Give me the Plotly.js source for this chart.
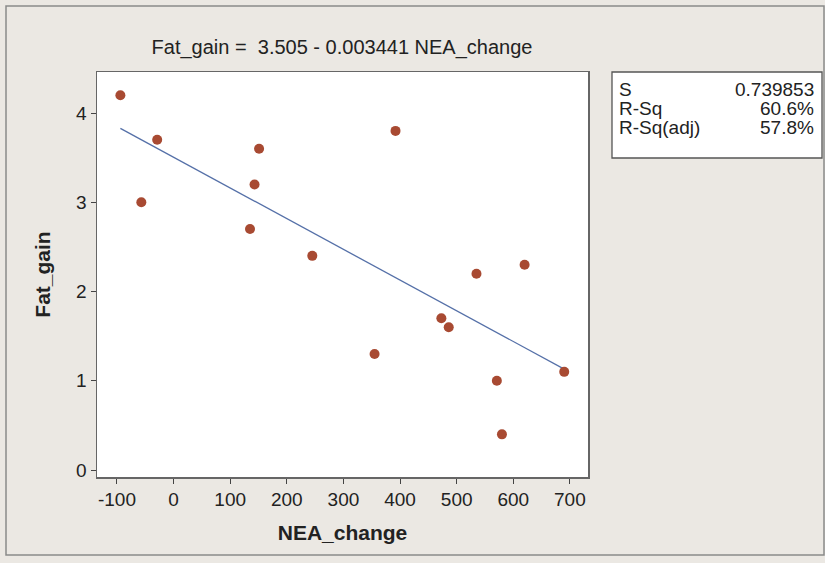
<!DOCTYPE html>
<html>
<head>
<meta charset="utf-8">
<script src="https://cdn.plot.ly/plotly-3.0.1.min.js"></script>
<style>html,body{margin:0;padding:0;background:#ffffff;}#chart{width:825px;height:563px;}</style>
</head>
<body>
<div id="chart"></div>
<script>
// Data
const neaChange = [-94, -57, -29, 135, 143, 151, 245, 355, 392, 473, 486, 535, 571, 580, 620, 690];
const fatGain   = [4.2, 3.0, 3.7, 2.7, 3.2, 3.6, 2.4, 1.3, 3.8, 1.7, 1.6, 2.2, 1.0, 0.4, 2.3, 1.1];
const intercept = 3.505;
const slope = -0.003441;
const xTicks = [-100, 0, 100, 200, 300, 400, 500, 600, 700];
const yTicks = [0, 1, 2, 3, 4];
const statLabels = ["S", "R-Sq", "R-Sq(adj)"];
const statValues = ["0.739853", "60.6%", "57.8%"];

const xMin = Math.min(...neaChange), xMax = Math.max(...neaChange);
const fitX = [xMin, xMax];
const fitY = fitX.map(x => intercept + slope * x);

const W = 825, H = 563;
const m = {l: 97, r: 237, t: 72, b: 86};
const pw = W - m.l - m.r, ph = H - m.t - m.b;
const px = x => (x - m.l) / pw;          // pixel -> paper x
const py = y => (H - m.b - y) / ph;      // pixel -> paper y

const font = "Liberation Sans, Arial, sans-serif";

const traces = [
  {x: fitX, y: fitY, mode: "lines", type: "scatter",
   line: {color: "#5570a8", width: 1.3}, hoverinfo: "skip"},
  {x: neaChange, y: fatGain, mode: "markers", type: "scatter",
   marker: {color: "#a84a32", size: 10, line: {width: 0}}}
];

const rowY = [89, 108, 127];
const statAnn = [];
statLabels.forEach((t, i) => statAnn.push({xref: "paper", yref: "paper", x: px(617), y: py(rowY[i]),
  xanchor: "left", yanchor: "middle", showarrow: false, text: t,
  font: {family: font, size: 19, color: "#222"}}));
statValues.forEach((t, i) => statAnn.push({xref: "paper", yref: "paper", x: px(816), y: py(rowY[i]),
  xanchor: "right", yanchor: "middle", showarrow: false, text: t,
  font: {family: font, size: 19, color: "#222"}}));

const layout = {
  width: W, height: H,
  margin: m,
  paper_bgcolor: "#ebe8e3",
  plot_bgcolor: "#ffffff",
  showlegend: false,
  font: {family: font, size: 14, color: "#222"},
  title: {text: "Fat_gain =  3.505 - 0.003441 NEA_change",
          font: {family: font, size: 20, color: "#222"},
          x: px(342), xanchor: "center", xref: "paper",
          y: 1 - 47 / H, yanchor: "middle"},
  xaxis: {range: [-135.3, 732], tickvals: xTicks, ticktext: xTicks.map(String),
          showgrid: false, zeroline: false, showline: true, linecolor: "#666", linewidth: 1.5,
          mirror: true, ticks: "outside", ticklen: 5, tickcolor: "#444",
          tickfont: {family: font, size: 19, color: "#222"},
          title: {text: "<b>NEA_change</b>", font: {family: font, size: 21, color: "#222"}, standoff: 16}},
  yaxis: {range: [-0.078, 4.46], tickvals: yTicks, ticktext: yTicks.map(String),
          showgrid: false, zeroline: false, showline: true, linecolor: "#666", linewidth: 1.5,
          mirror: true, ticks: "outside", ticklen: 5, tickcolor: "#444",
          tickfont: {family: font, size: 19, color: "#222"},
          title: {text: "<b>Fat_gain</b>", font: {family: font, size: 21, color: "#222"}, standoff: 20}},
  shapes: [
    {type: "rect", xref: "paper", yref: "paper",
     x0: px(6), x1: px(824), y0: py(555), y1: py(6),
     line: {color: "#8a8a8a", width: 1.5}, fillcolor: "rgba(0,0,0,0)", layer: "below"},
    {type: "rect", xref: "paper", yref: "paper",
     x0: px(612), x1: px(822), y0: py(158), y1: py(72),
     line: {color: "#555", width: 1.3}, fillcolor: "#ffffff"}
  ],
  annotations: statAnn
};

Plotly.newPlot("chart", traces, layout, {displayModeBar: false, staticPlot: true});
</script>
</body>
</html>
